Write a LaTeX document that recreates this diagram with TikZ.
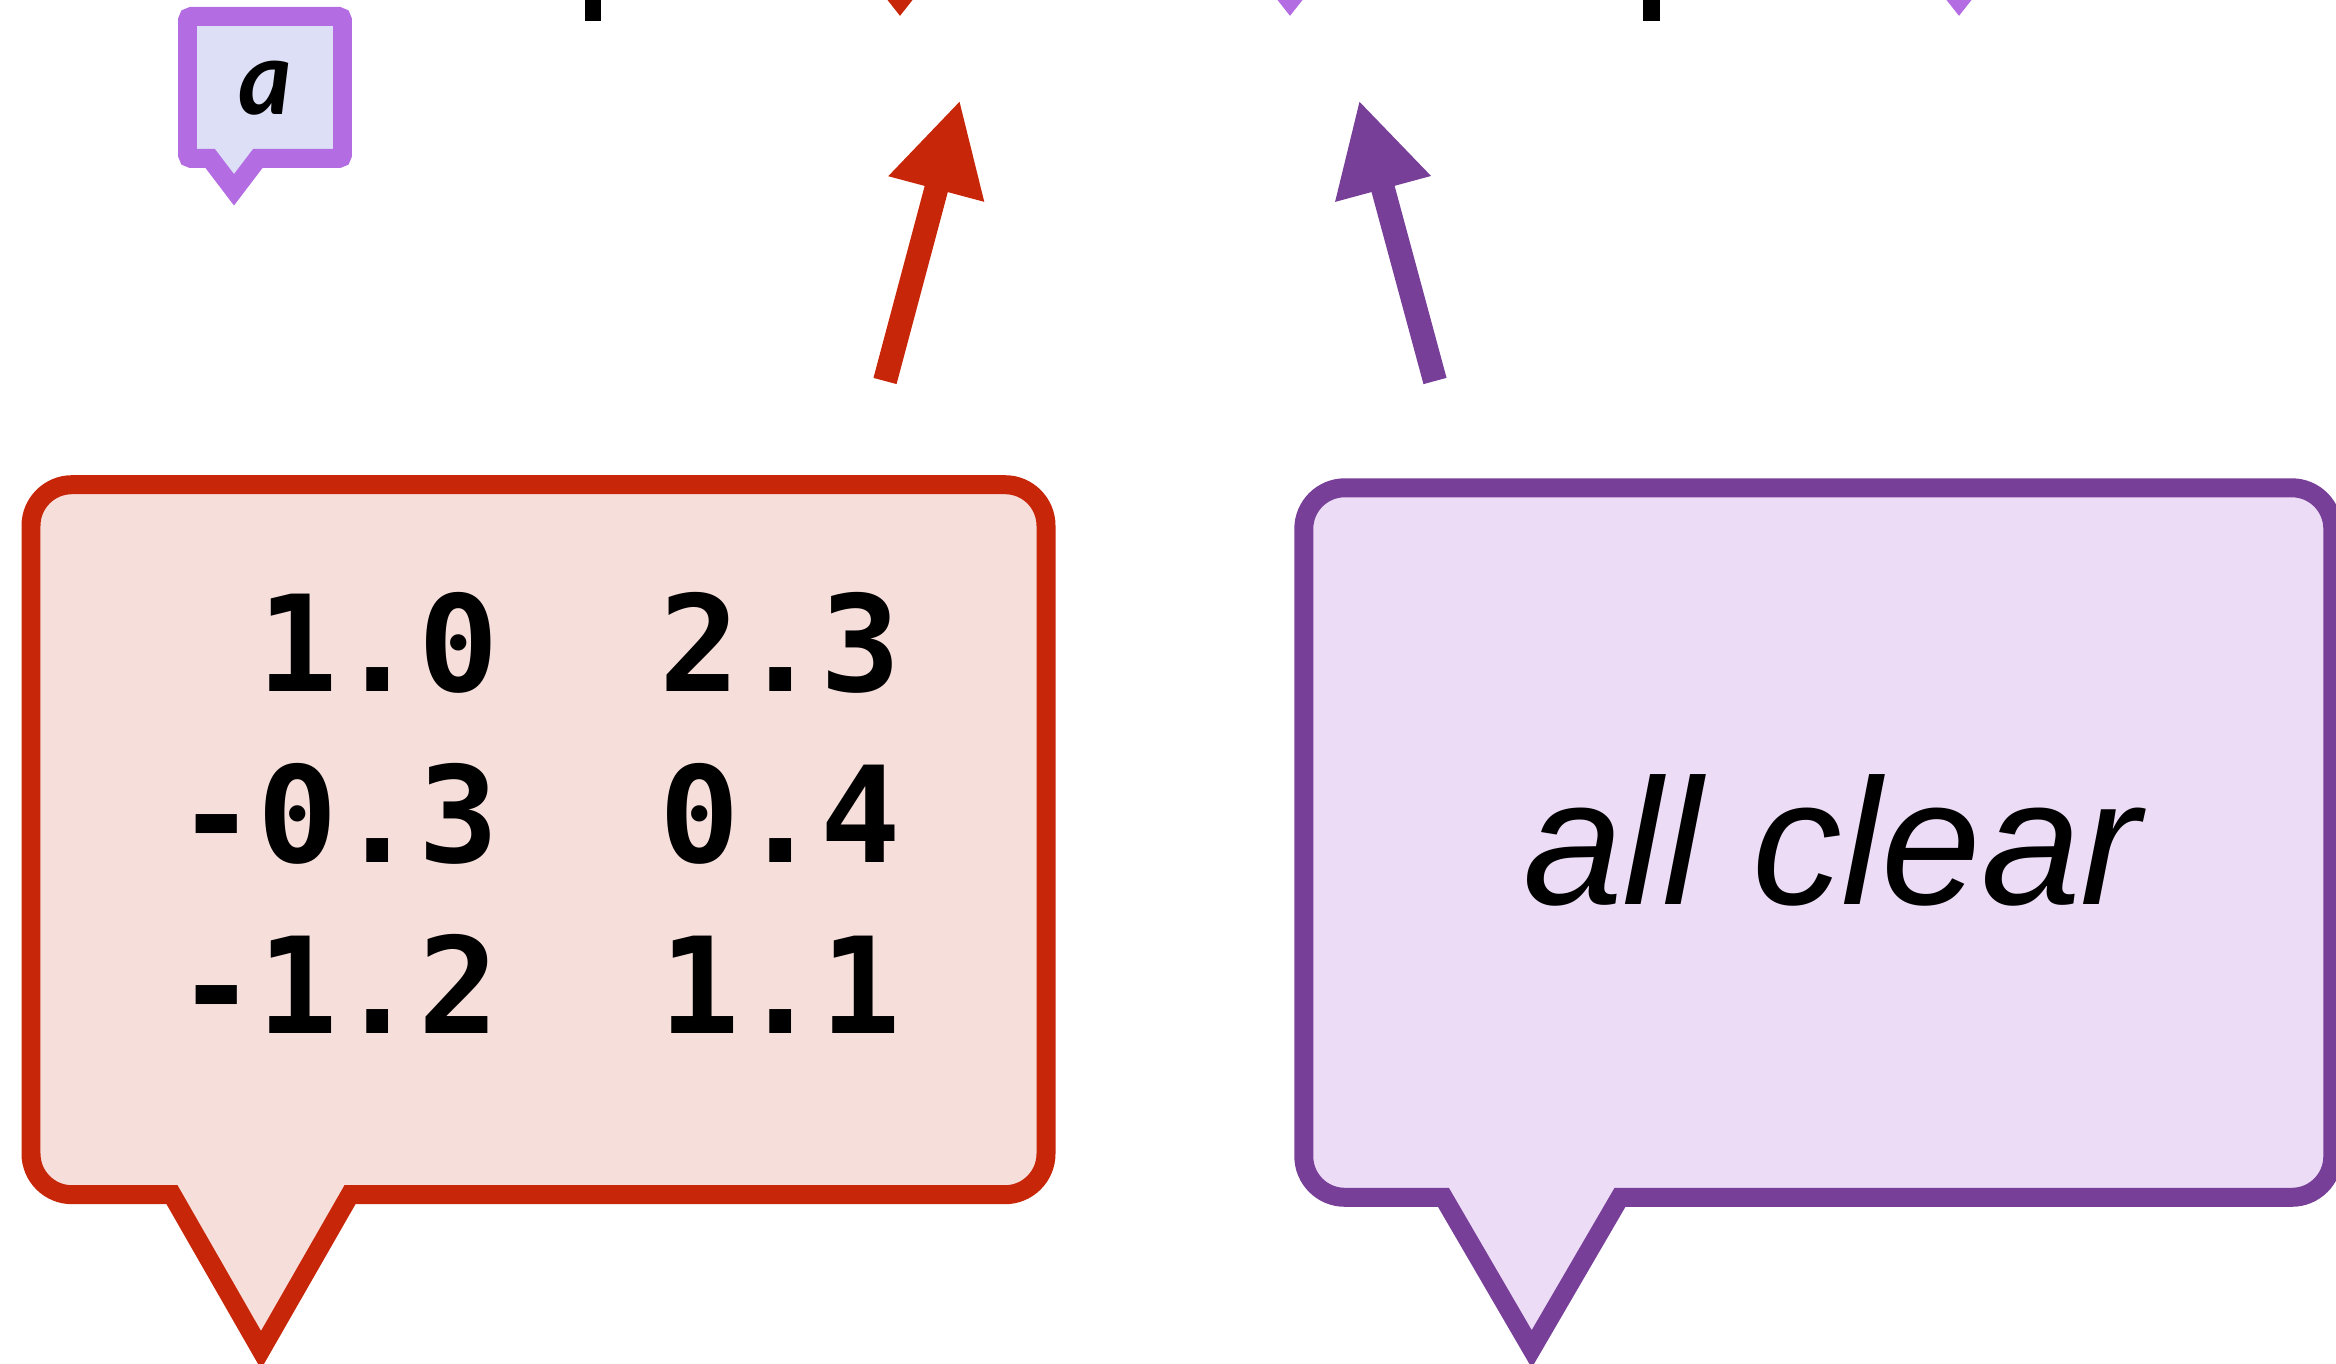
\documentclass[tikz,border=0pt]{standalone}
\usepackage{fontspec}
\usetikzlibrary{arrows.meta}

\newfontfamily\numfont{DejaVu Sans Mono}
\newfontfamily\clearfont{Liberation Sans}
\newfontfamily\tagfont{Lato}

\definecolor{warnred}{RGB}{200,38,8}
\definecolor{warnfill}{RGB}{246,223,219}
\definecolor{okpurple}{RGB}{120,63,152}
\definecolor{okfill}{RGB}{236,220,246}
\definecolor{tagpurple}{RGB}{179,108,226}
\definecolor{tagfill}{RGB}{220,223,245}

\tikzset{
	callout/.style  = {line width=5.4pt, miter limit=10},
	valbox/.style   = {callout, draw=warnred, fill=warnfill},
	okbox/.style    = {callout, draw=okpurple, fill=okfill},
	tagbox/.style   = {callout, draw=tagpurple, fill=tagfill},
	pointer/.style  = {line width=6.8pt, -{Triangle[length=26.2pt, width=26.2pt]}},
	stub/.style     = {line width=4.6pt},
	stubtip/.style  = {line width=2pt, -{Triangle[length=6.8pt, width=10.2pt]}}
}

\begin{document}
\begin{tikzpicture}
[
x = 0.01cm,
y = -0.01cm,
every node/.style = {inner sep=0pt}
]
\useasboundingbox (0,0) rectangle (2336,1364);
\clip (0,0) rectangle (2336,1364);

% ends of the connectors coming in from above
\coordinate (stubA0) at (593,-30);   \coordinate (stubA) at (593,21);
\coordinate (stubB0) at (1651.5,-30);\coordinate (stubB) at (1651.5,21);
\coordinate (tipA0) at (900,-40);    \coordinate (tipA) at (900,16);
\coordinate (tipB0) at (1290,-40);   \coordinate (tipB) at (1290,16);
\coordinate (tipC0) at (1959,-40);   \coordinate (tipC) at (1959,16);
\draw [stub] (stubA0) -- (stubA);
\draw [stub] (stubB0) -- (stubB);
\draw [stubtip, warnred] (tipA0) -- (tipA);
\draw [stubtip, tagpurple] (tipB0) -- (tipB);
\draw [stubtip, tagpurple] (tipC0) -- (tipC);

% small tag
\draw [tagbox] (210.2,158.5) -- (191.5,158.5)
	arc [start angle=90, end angle=180, radius=4] -- (187.5,20.5)
	arc [start angle=180, end angle=270, radius=4] -- (338.5,16.5)
	arc [start angle=270, end angle=360, radius=4] -- (342.5,154.5)
	arc [start angle=0, end angle=90, radius=4] -- (257.8,158.5)
	-- (234,189.8) -- cycle;
\node [font=\tagfont\bfseries\itshape\fontsize{29.2}{35}\selectfont, anchor=base]
	(tag) at (265,115) {a};

% the two arrows
\coordinate (warntail) at (885,381);  \coordinate (warntip) at (960,100);
\coordinate (oktail) at (1435,381);   \coordinate (oktip) at (1359,100);
\draw [pointer, warnred] (warntail) -- (warntip);
\draw [pointer, okpurple] (oktail) -- (oktip);

% value callout
\draw [valbox] (172,1194.7) -- (72,1194.7)
	arc [start angle=90, end angle=180, radius=41] -- (31,525.7)
	arc [start angle=180, end angle=270, radius=41] -- (1005,484.7)
	arc [start angle=270, end angle=360, radius=41] -- (1046,1153.7)
	arc [start angle=0, end angle=90, radius=41] -- (350,1194.7)
	-- (261,1350) -- cycle;
\node [font=\numfont\bfseries\fontsize{38}{48.65}\selectfont, align=left]
	(vals) at (539,813) {\phantom{-}1.0\ \ 2.3\\-0.3\ \ 0.4\\-1.2\ \ 1.1};

% status callout
\draw [okbox] (1443.4,1197.3) -- (1344.8,1197.3)
	arc [start angle=90, end angle=180, radius=41] -- (1303.8,528.8)
	arc [start angle=180, end angle=270, radius=41] -- (2291.8,487.8)
	arc [start angle=270, end angle=360, radius=41] -- (2332.8,1156.3)
	arc [start angle=0, end angle=90, radius=41] -- (1620,1197.3)
	-- (1531.7,1349) -- cycle;
\node [font=\clearfont\itshape\fontsize{51}{60}\selectfont, anchor=base]
	(clear) at (1832,904) {all clear};
\end{tikzpicture}
\end{document}
